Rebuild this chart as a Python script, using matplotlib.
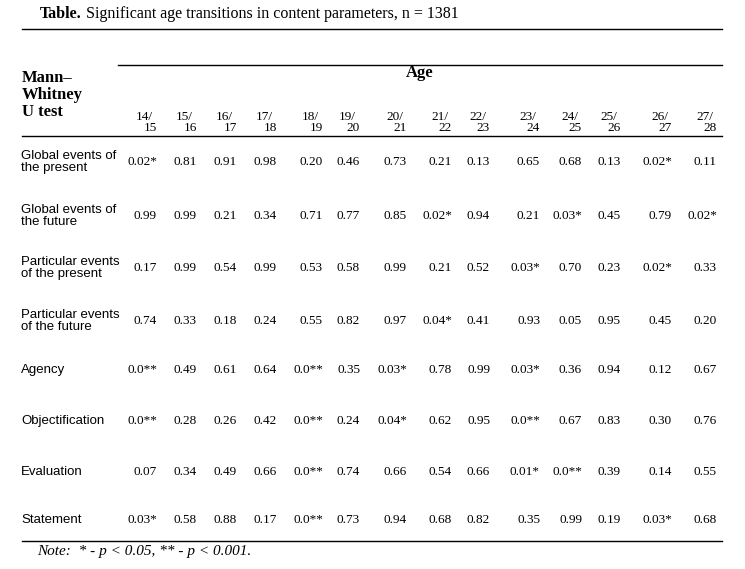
import matplotlib.pyplot as plt
from matplotlib.lines import Line2D

title_bold = "Table."
title_rest = " Significant age transitions in content parameters, n = 1381"
age_cols = ["14/15", "15/16", "16/17", "17/18", "18/19", "19/20", "20/21",
            "21/22", "22/23", "23/24", "24/25", "25/26", "26/27", "27/28"]
row_labels = ["Global events of\nthe present", "Global events of\nthe future",
              "Particular events\nof the present", "Particular events\nof the future",
              "Agency", "Objectification", "Evaluation", "Statement"]
values = [
    ["0.02*", "0.81", "0.91", "0.98", "0.20", "0.46", "0.73", "0.21", "0.13", "0.65", "0.68", "0.13", "0.02*", "0.11"],
    ["0.99", "0.99", "0.21", "0.34", "0.71", "0.77", "0.85", "0.02*", "0.94", "0.21", "0.03*", "0.45", "0.79", "0.02*"],
    ["0.17", "0.99", "0.54", "0.99", "0.53", "0.58", "0.99", "0.21", "0.52", "0.03*", "0.70", "0.23", "0.02*", "0.33"],
    ["0.74", "0.33", "0.18", "0.24", "0.55", "0.82", "0.97", "0.04*", "0.41", "0.93", "0.05", "0.95", "0.45", "0.20"],
    ["0.0**", "0.49", "0.61", "0.64", "0.0**", "0.35", "0.03*", "0.78", "0.99", "0.03*", "0.36", "0.94", "0.12", "0.67"],
    ["0.0**", "0.28", "0.26", "0.42", "0.0**", "0.24", "0.04*", "0.62", "0.95", "0.0**", "0.67", "0.83", "0.30", "0.76"],
    ["0.07", "0.34", "0.49", "0.66", "0.0**", "0.74", "0.66", "0.54", "0.66", "0.01*", "0.0**", "0.39", "0.14", "0.55"],
    ["0.03*", "0.58", "0.88", "0.17", "0.0**", "0.73", "0.94", "0.68", "0.82", "0.35", "0.99", "0.19", "0.03*", "0.68"],
]
note = "Note:  * - p < 0.05, ** - p < 0.001."

W, H = 745, 569
fig = plt.figure(figsize=(W / 100, H / 100), dpi=100)
ax = fig.add_axes([0, 0, 1, 1])
ax.set_xlim(0, W)
ax.set_ylim(H, 0)
ax.axis("off")

serif = ["Liberation Serif", "DejaVu Serif"]
narrow = ["Liberation Sans Narrow", "Liberation Sans", "DejaVu Sans"]

col_x = [157, 197, 237, 277, 323, 360, 407, 452, 490, 540, 582, 621, 672, 717]
row_y = [162, 216, 268, 321, 370, 421, 472, 520]

t = ax.text(40, 14, title_bold, family=serif, fontsize=11.5, weight="bold", va="center")
fig.canvas.draw()
bb = t.get_window_extent()
ax.text(40 + bb.width, 14, title_rest, family=serif, fontsize=11.5, va="center")

for y, x0 in [(29, 22), (136, 22), (541, 22)]:
    ax.add_line(Line2D([x0, 722], [y, y], color="black", lw=1))
ax.add_line(Line2D([118, 722], [65, 65], color="black", lw=1))

ax.text(420, 73, "Age", family=serif, fontsize=12, weight="bold", ha="center", va="center")
ax.text(22, 95, "Mann–\nWhitney\nU test", family=serif, fontsize=12, weight="bold",
        va="center", linespacing=1.05)

for x, c in zip(col_x, age_cols):
    a, b = c.split("/")
    ax.text(x - 4, 117, a + "/", family=serif, fontsize=9.5, ha="right", va="center")
    ax.text(x, 128, b, family=serif, fontsize=9.5, ha="right", va="center")

for y, lab, vals in zip(row_y, row_labels, values):
    ax.text(21, y, lab, family=narrow, fontsize=9.5, va="center", linespacing=1.0)
    for x, v in zip(col_x, vals):
        ax.text(x, y, v, family=serif, fontsize=9.5, ha="right", va="center")

ax.text(37, 552, note, family=serif, fontsize=11, style="italic", va="center")

fig.savefig("out.png", dpi=100)
